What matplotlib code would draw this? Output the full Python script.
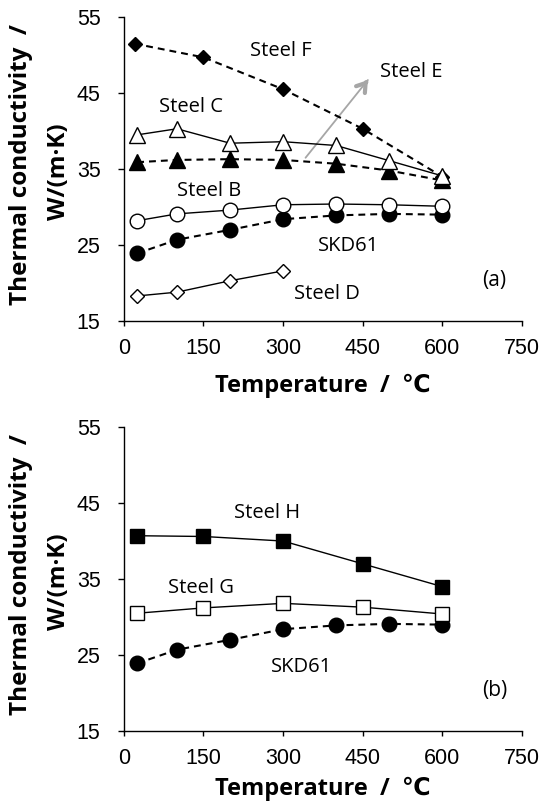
import numpy as np
import matplotlib
matplotlib.use("Agg")
import matplotlib.pyplot as plt

# ---- data ----
t_f = [20, 150, 300, 450, 600]
steel_f = [51.5, 49.7, 45.5, 40.3, 34.0]

t7 = [25, 100, 200, 300, 400, 500, 600]
steel_c = [39.5, 40.3, 38.4, 38.6, 38.1, 36.1, 34.1]
steel_e = [35.9, 36.2, 36.3, 36.2, 35.7, 34.8, 33.5]
steel_b = [28.2, 29.1, 29.6, 30.3, 30.4, 30.3, 30.1]
skd61 = [23.9, 25.7, 27.0, 28.4, 28.9, 29.1, 29.0]

t_d = [25, 100, 200, 300]
steel_d = [18.3, 18.8, 20.3, 21.6]

t5 = [25, 150, 300, 450, 600]
steel_h = [40.7, 40.6, 40.0, 37.0, 34.0]
steel_g = [30.5, 31.2, 31.8, 31.3, 30.4]

xticks = [0, 150, 300, 450, 600, 750]
yticks = [15, 25, 35, 45, 55]

tickfont = ['Liberation Sans Narrow', 'Liberation Sans', 'DejaVu Sans']
txtfont = ['Open Sans', 'DejaVu Sans']

fig = plt.figure(figsize=(5.41, 8.05), dpi=100)
ax1 = fig.add_axes([0.229, 0.6012, 0.7357, 0.3776])
ax2 = fig.add_axes([0.229, 0.0919, 0.7357, 0.3776])

dash = dict(ls='--', dashes=(3.3, 2.4), lw=1.5, color='k')
solid = dict(ls='-', lw=1.0, color='k')


def setup(ax, tag, xl_y):
    ax.set_xlim(0, 750)
    ax.set_ylim(15, 55)
    ax.set_xticks(xticks)
    ax.set_yticks(yticks)
    for s in ['top', 'right']:
        ax.spines[s].set_visible(False)
    for s in ['left', 'bottom']:
        ax.spines[s].set_linewidth(1.0)
    ax.tick_params(axis='x', direction='out', length=3.6, width=1.0, pad=8.5)
    ax.tick_params(axis='y', direction='out', length=4.3, width=1.0, pad=12.5)
    for lab in ax.get_xticklabels() + ax.get_yticklabels():
        lab.set_family(tickfont)
        lab.set_fontsize(15.5)
    ax.text(0.5, xl_y, 'Temperature  /  \u2103', transform=ax.transAxes,
            ha='center', va='center', fontsize=17, fontweight='bold',
            family=txtfont)
    ax.text(-0.259, 0.515, 'Thermal conductivity  /', transform=ax.transAxes,
            ha='center', va='center', rotation=90, fontsize=17.5,
            fontweight='bold', family=txtfont)
    ax.text(-0.163, 0.49, 'W/(m\u00b7K)', transform=ax.transAxes,
            ha='center', va='center', rotation=90, fontsize=17.5,
            fontweight='bold', family=txtfont)
    ax.text(698, 20.3, tag, ha='center', va='center', fontsize=15,
            family=txtfont)


# ---- panel (a) ----
setup(ax1, '(a)', -0.214)
ax1.plot(t_f, steel_f, marker='D', ms=7.5, mfc='k', mec='k', **dash, zorder=3)
ax1.plot(t7, steel_c, marker='^', ms=11, mfc='w', mec='k', mew=1.0, **solid, zorder=4)
ax1.plot(t7, steel_e, marker='^', ms=11, mfc='k', mec='k', **dash, zorder=3)
ax1.plot(t7, steel_b, marker='o', ms=10.5, mfc='w', mec='k', mew=1.0, **solid, zorder=4)
ax1.plot(t7, skd61, marker='o', ms=10.5, mfc='k', mec='k', **dash, zorder=3)
ax1.plot(t_d, steel_d, marker='D', ms=7.5, mfc='w', mec='k', mew=1.0, **solid, zorder=4)

ax1.annotate('', xy=(463, 47.0), xytext=(339, 36.2),
             arrowprops=dict(arrowstyle='-', color='#a6a6a6', lw=1.3), zorder=2)
ax1.annotate('', xy=(463, 47.0), xytext=(453, 46.1),
             arrowprops=dict(arrowstyle='->,head_length=0.6,head_width=0.4',
                             color='#a6a6a6', lw=3.0), zorder=2)

labels_a = [('Steel F', 296, 50.5), ('Steel E', 541, 47.8),
            ('Steel C', 127, 43.1), ('Steel B', 161, 32.1),
            ('SKD61', 424, 24.9), ('Steel D', 382, 18.6)]
for s, x, y in labels_a:
    ax1.text(x, y, s, ha='center', va='center', fontsize=14.5, family=txtfont)

# ---- panel (b) ----
setup(ax2, '(b)', -0.19)
ax2.plot(t5, steel_h, marker='s', ms=10.5, mfc='k', mec='k', **solid, zorder=3)
ax2.plot(t5, steel_g, marker='s', ms=10.5, mfc='w', mec='k', mew=1.0, **solid, zorder=4)
ax2.plot(t7, skd61, marker='o', ms=10.5, mfc='k', mec='k', **dash, zorder=3)

labels_b = [('Steel H', 269, 43.7), ('Steel G', 145, 33.8), ('SKD61', 334, 23.45)]
for s, x, y in labels_b:
    ax2.text(x, y, s, ha='center', va='center', fontsize=14.5, family=txtfont)

fig.savefig('out.png', dpi=100)
